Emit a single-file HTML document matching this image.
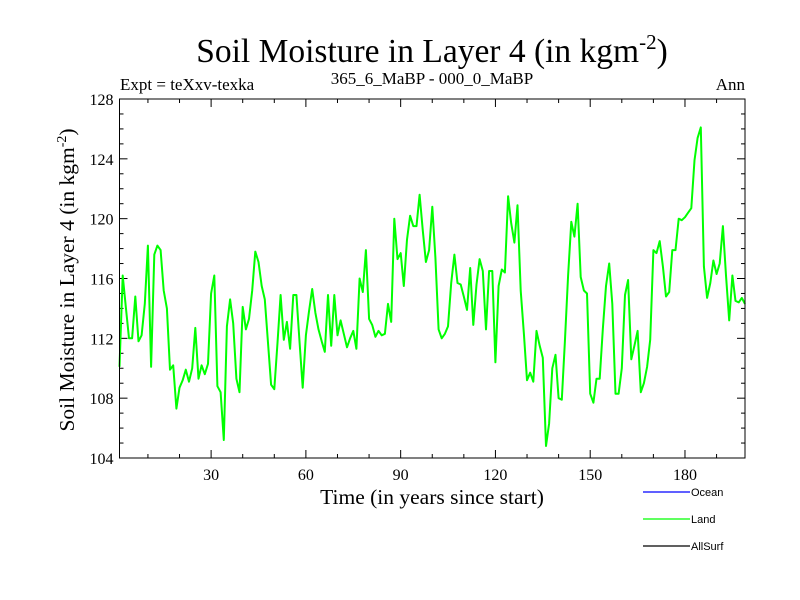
<!DOCTYPE html>
<html><head><meta charset="utf-8"><style>
html,body{margin:0;padding:0;background:#fff;}
svg{display:block;}
text{font-family:"Liberation Serif",serif;fill:#000;}
.leg{font-family:"Liberation Sans",sans-serif;font-size:11px;}
</style></head><body>
<svg id="chart" width="800" height="600" viewBox="0 0 800 600">
<text x="432" y="62" font-size="33.5" text-anchor="middle">Soil Moisture in Layer 4 (in kgm<tspan font-size="21" dy="-13">-2</tspan><tspan dy="13">)</tspan></text>
<text x="120" y="90" font-size="17">Expt = teXxv-texka</text>
<text x="432" y="84" font-size="17" text-anchor="middle">365_6_MaBP - 000_0_MaBP</text>
<text x="745" y="90" font-size="17" text-anchor="end">Ann</text>
<text transform="translate(74,280) rotate(-90)" font-size="21.5" text-anchor="middle">Soil Moisture in Layer 4 (in kgm<tspan font-size="14" dy="-8">-2</tspan><tspan dy="8">)</tspan></text>
<text x="432" y="504" font-size="21.5" text-anchor="middle">Time (in years since start)</text>
<g id="ticks"></g>
<g id="lines"></g>
<rect x="119.5" y="99" width="625.5" height="359" fill="none" stroke="#000" stroke-width="1"/>
<g>
<line x1="643" y1="492" x2="690" y2="492" stroke="#0000ff" stroke-width="1.2"/>
<text class="leg" x="691" y="496">Ocean</text>
<line x1="643" y1="519" x2="690" y2="519" stroke="#00ff00" stroke-width="1.2"/>
<text class="leg" x="691" y="523">Land</text>
<line x1="643" y1="546" x2="690" y2="546" stroke="#000" stroke-width="1.2"/>
<text class="leg" x="691" y="550">AllSurf</text>
</g>
</svg>
<script>
const xTickLabels=[30,60,90,120,150,180];
const yTickLabels=[104,108,112,116,120,124,128];
const landValues=[110.1,116.2,114.1,112.0,112.0,114.8,111.8,112.2,114.3,118.2,110.1,117.6,118.2,117.9,115.2,114.0,109.9,110.2,107.3,108.7,109.2,109.9,109.1,110.0,112.7,109.3,110.2,109.6,110.3,115.0,116.2,108.8,108.4,105.2,112.8,114.6,113.0,109.3,108.4,114.1,112.6,113.3,115.2,117.8,117.1,115.5,114.6,111.7,108.9,108.6,111.7,114.9,111.9,113.1,111.3,114.9,114.9,111.7,108.7,112.2,113.8,115.3,113.7,112.6,111.8,111.1,114.9,111.5,114.9,112.2,113.2,112.3,111.4,112.0,112.5,111.3,116.0,115.1,117.9,113.3,112.9,112.1,112.5,112.2,112.3,114.3,113.1,120.0,117.3,117.7,115.5,118.6,120.2,119.5,119.5,121.6,119.2,117.1,117.9,120.8,117.4,112.6,112.0,112.3,112.8,115.7,117.6,115.7,115.6,114.8,113.9,116.7,112.9,115.6,117.3,116.5,112.6,116.5,116.5,110.4,115.5,116.6,116.4,121.5,119.7,118.4,120.9,115.2,112.3,109.2,109.7,109.1,112.5,111.5,110.7,104.8,106.3,110.0,110.9,108.0,107.9,111.8,116.2,119.8,118.8,121.0,116.1,115.2,115.0,108.3,107.7,109.3,109.3,112.6,115.5,117.0,114.3,108.3,108.3,110.0,114.9,115.9,110.6,111.5,112.5,108.4,109.0,110.1,111.9,117.9,117.7,118.5,116.8,114.8,115.1,117.9,117.9,120.0,119.9,120.1,120.4,120.7,123.9,125.4,126.1,116.8,114.7,115.7,117.2,116.3,117.0,119.5,116.2,113.2,116.2,114.5,114.4,114.7,114.3];
const firstYear=1;

const NS="http://www.w3.org/2000/svg";
const L=119.5,R=745,T=99,B=458,X0=1,X1=199,Y0=104,Y1=128;
function sx(v){return L+(v-X0)/(X1-X0)*(R-L);}
function sy(v){return B-(v-Y0)/(Y1-Y0)*(B-T);}
function mk(tag,attrs,parent){const e=document.createElementNS(NS,tag);for(const k in attrs)e.setAttribute(k,attrs[k]);parent.appendChild(e);return e;}
const tg=document.getElementById('ticks');
for(let v=10;v<X1;v+=10){
  const major=v%30===0,len=major?8:4,x=sx(v);
  const t1=mk('line',{x1:x,y1:B,x2:x,y2:B-len,stroke:'#000','stroke-width':1},tg);
  
  
  const t2=mk('line',{x1:x,y1:T,x2:x,y2:T+len,stroke:'#000','stroke-width':1},tg);
  
  
}
xTickLabels.forEach(v=>{
  const t=mk('text',{x:sx(v),y:B+22,'font-size':16,'text-anchor':'middle'},tg);
  t.textContent=v;
  
  
});
for(let v=Y0;v<=Y1;v+=1){
  const major=v%4===0,len=major?8:4,y=sy(v);
  const t1=mk('line',{x1:L,y1:y,x2:L+len,y2:y,stroke:'#000','stroke-width':1},tg);
  
  
  const t2=mk('line',{x1:R,y1:y,x2:R-len,y2:y,stroke:'#000','stroke-width':1},tg);
  
  
}
yTickLabels.forEach(v=>{
  const t=mk('text',{x:L-6,y:sy(v)+6,'font-size':16,'text-anchor':'end'},tg);
  t.textContent=v;
  
  
});
const lg=document.getElementById('lines');
const pts=landValues.map((v,i)=>sx(firstYear+i).toFixed(1)+','+sy(v).toFixed(1)).join(' ');
const pl=mk('polyline',{points:pts,fill:'none',stroke:'#00ff00','stroke-width':2,'stroke-linejoin':'round'},lg);


</script>
</body></html>
